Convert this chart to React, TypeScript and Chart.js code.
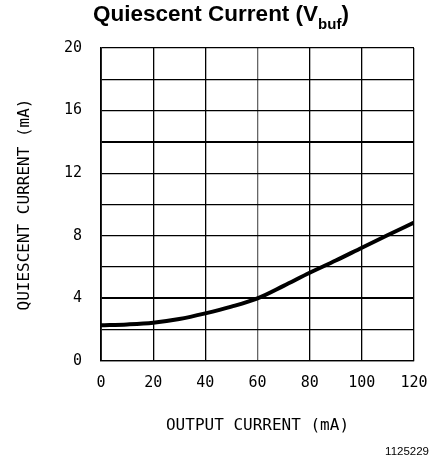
import React, { useEffect, useRef } from 'react';
import { Chart, registerables } from 'chart.js';

Chart.register(...registerables);

const outputCurrent = [0, 10, 20, 30, 40, 50, 60, 70, 80, 90, 100, 110, 120];
const quiescentCurrent = [2.28, 2.34, 2.45, 2.68, 3.04, 3.47, 4.0, 4.8, 5.64, 6.42, 7.24, 8.05, 8.84];
const xMin = 0;
const xMax = 120;
const xStep = 20;
const yMin = 0;
const yMax = 20;
const yGridStep = 2;
const yLabelStep = 4;
const titleMain = 'Quiescent Current (V';
const titleSub = 'buf';
const titleEnd = ')';
const xTitle = 'OUTPUT CURRENT (mA)';
const yTitle = 'QUIESCENT CURRENT (mA)';
const figureId = '1125229';

const MONO = '"DejaVu Sans Mono", "Liberation Mono", monospace';
const SANS = '"Liberation Sans", Arial, Helvetica, sans-serif';

const textPlugin = {
  id: 'extraText',
  afterDraw(chart: any) {
    const ctx = chart.ctx as CanvasRenderingContext2D;
    ctx.save();
    ctx.fillStyle = '#000';
    ctx.textBaseline = 'alphabetic';
    ctx.textAlign = 'left';
    const mainFont = `bold 22.5px ${SANS}`;
    const subFont = `bold 15px ${SANS}`;
    ctx.font = mainFont;
    const w1 = ctx.measureText(titleMain).width;
    const w3 = ctx.measureText(titleEnd).width;
    ctx.font = subFont;
    const w2 = ctx.measureText(titleSub).width;
    const total = w1 + w2 + w3;
    const cx = 221;
    let x = cx - total / 2;
    const baseline = 21;
    ctx.font = mainFont;
    ctx.fillText(titleMain, x, baseline);
    x += w1;
    ctx.font = subFont;
    ctx.fillText(titleSub, x, baseline + 8);
    x += w2;
    ctx.font = mainFont;
    ctx.fillText(titleEnd, x, baseline);

    ctx.font = `11.5px ${SANS}`;
    ctx.textAlign = 'right';
    ctx.textBaseline = 'middle';
    ctx.fillText(figureId, 429, 452);
    ctx.restore();
  },
};

export default function App() {
  const canvasRef = useRef<HTMLCanvasElement | null>(null);

  useEffect(() => {
    const canvas = canvasRef.current;
    if (!canvas) return;
    const points = outputCurrent.map((x, i) => ({ x, y: quiescentCurrent[i] }));
    const chart = new Chart(canvas, {
      type: 'line',
      data: {
        datasets: [
          {
            data: points,
            borderColor: '#000',
            borderWidth: 4,
            pointRadius: 0,
            fill: false,
            cubicInterpolationMode: 'monotone',
          },
        ],
      },
      options: {
        animation: false,
        responsive: false,
        maintainAspectRatio: false,
        devicePixelRatio: 1,
        layout: { padding: { left: 0, right: 23, top: 48, bottom: 0 } },
        plugins: {
          legend: { display: false },
          title: { display: false },
          tooltip: { enabled: false },
        },
        scales: {
          x: {
            type: 'linear',
            min: xMin,
            max: xMax,
            afterFit: (scale: any) => {
              scale.height = 105;
              scale.paddingRight = 0;
              scale.paddingLeft = 0;
            },
            ticks: {
              stepSize: xStep,
              color: '#000',
              padding: 13,
              maxRotation: 0,
              font: { family: MONO, size: 15 },
            },
            grid: {
              color: (c: any) => (c.tick && c.tick.value === 60 ? '#666' : '#000'),
              lineWidth: 1.3,
              drawTicks: false,
            },
            border: { color: '#000', width: 1.3 },
            title: {
              display: true,
              text: xTitle,
              color: '#000',
              font: { family: MONO, size: 16 },
              padding: { top: 0, bottom: 31 },
            },
          },
          y: {
            type: 'linear',
            min: yMin,
            max: yMax,
            afterFit: (scale: any) => {
              scale.width = 101;
            },
            ticks: {
              stepSize: yGridStep,
              color: '#000',
              padding: 19,
              font: { family: MONO, size: 15 },
              callback: (v: any) => (Number(v) % yLabelStep === 0 ? String(v) : ''),
            },
            grid: {
              color: '#000',
              lineWidth: (c: any) => (c.tick && (c.tick.value === 4 || c.tick.value === 14) ? 2 : 1.3),
              drawTicks: false,
            },
            border: { color: '#000', width: 1.8 },
            title: {
              display: true,
              text: yTitle,
              color: '#000',
              font: { family: MONO, size: 16 },
              padding: { top: 15, bottom: 0 },
            },
          },
        },
      },
      plugins: [textPlugin],
    });
    return () => chart.destroy();
  }, []);

  return (
    <div style={{ position: 'absolute', left: 0, top: 0, width: 437, height: 466, background: '#fff' }}>
      <canvas ref={canvasRef} width={437} height={466} style={{ display: 'block', width: 437, height: 466 }} />
    </div>
  );
}
